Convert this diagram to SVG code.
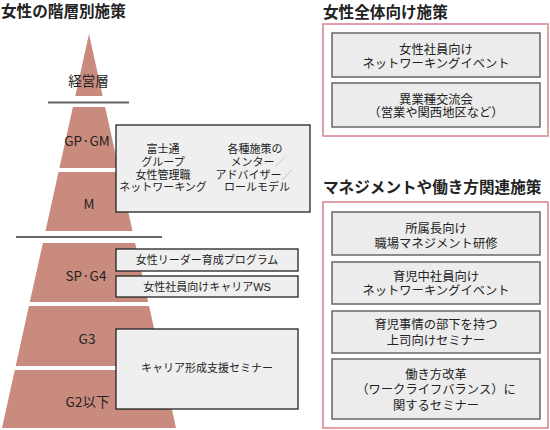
<svg xmlns="http://www.w3.org/2000/svg" width="550" height="430" viewBox="0 0 550 430">
<style>
text{font-family:"Noto Sans CJK JP","Noto Sans CJK SC",sans-serif;fill:#222;text-anchor:middle;dominant-baseline:central}
.title{font-size:15.6px;font-weight:bold;text-anchor:start}
.tier{fill:#c98b7e}
.lvl{font-size:13.5px}
.sep{stroke:#666;stroke-width:2}
.lbox{fill:#efefef;stroke:#222;stroke-width:1.3}
.lt{font-size:11px;font-family:"Liberation Sans","Noto Sans CJK JP",sans-serif}
.frame{fill:#fff;stroke:#d9808a;stroke-width:1.5}
.rbox{fill:#ececec;stroke:#707070;stroke-width:1.6}
.rt{font-size:12.3px;font-family:"Liberation Sans","Noto Sans CJK JP",sans-serif}
.sl{fill:#aaa}
</style>
<rect width="550" height="430" fill="#fff"/>

<text class="title" x="1" y="10">女性の階層別施策</text>
<text class="title" x="323" y="11">女性全体向け施策</text>
<text class="title" x="323" y="186">マネジメントや働き方関連施策</text>

<g id="pyramid">
  <g id="tier-executive"><polygon class="tier" points="89,34 102.7,96 75.3,96"/><text class="lvl" x="88.5" y="80">経営層</text></g>
  <g id="tier-gpgm"><polygon class="tier" points="72.9,107 105.1,107 118.6,168 59.4,168"/><text class="lvl" x="87" y="140">GP·GM</text></g>
  <g id="tier-m"><polygon class="tier" points="58.5,172 119.5,172 132.5,231 45.5,231"/><text class="lvl" x="89" y="203">M</text></g>
  <g id="tier-spg4"><polygon class="tier" points="42.9,243 135.1,243 148.2,302 29.8,302"/><text class="lvl" x="86" y="275">SP·G4</text></g>
  <g id="tier-g3"><polygon class="tier" points="28.9,306 149.1,306 162.3,366 15.7,366"/><text class="lvl" x="87" y="338">G3</text></g>
  <g id="tier-g2"><polygon class="tier" points="14.8,370 163.2,370 176,428 2,428"/><text class="lvl" x="87.5" y="401">G2以下</text></g>
</g>

<g id="connectors">
  <line class="sep" x1="48" y1="102.5" x2="129" y2="102.5"/>
  <line class="sep" x1="16" y1="237" x2="162" y2="237"/>
</g>

<g id="box-network">
  <rect class="lbox" x="116" y="125" width="194" height="87"/>
  <text class="lt" x="163" y="149">富士通</text>
  <text class="lt" x="163" y="162">グループ</text>
  <text class="lt" x="163" y="174.5">女性管理職</text>
  <text class="lt" x="163" y="187">ネットワーキング</text>
  <text class="lt" x="255" y="149">各種施策の</text>
  <text class="lt" x="258" y="162">メンター<tspan class="sl">／</tspan></text>
  <text class="lt" x="254" y="174.5">アドバイザー<tspan class="sl">／</tspan></text>
  <text class="lt" x="257" y="187">ロールモデル</text>
</g>
<g id="box-leader">
  <rect class="lbox" x="116" y="249" width="182" height="22"/>
  <text class="lt" x="207" y="260">女性リーダー育成プログラム</text>
</g>
<g id="box-careerws">
  <rect class="lbox" x="116" y="276" width="182" height="21"/>
  <text class="lt" x="207" y="286.5">女性社員向けキャリアWS</text>
</g>
<g id="box-career-seminar">
  <rect class="lbox" x="116" y="329" width="182" height="80"/>
  <text class="lt" x="207" y="368">キャリア形成支援セミナー</text>
</g>

<g id="frame-women">
  <rect class="frame" x="323" y="24" width="225" height="112"/>
  <g id="box-women-network">
    <rect class="rbox" x="332" y="33" width="208" height="44"/>
    <text class="rt" x="436" y="49.5">女性社員向け</text>
    <text class="rt" x="436" y="64">ネットワーキングイベント</text>
  </g>
  <g id="box-cross-industry">
    <rect class="rbox" x="332" y="83" width="208" height="44"/>
    <text class="rt" x="436" y="99.5">異業種交流会</text>
    <text class="rt" x="436" y="113">（営業や関西地区など）</text>
  </g>
</g>

<g id="frame-management">
  <rect class="frame" x="323" y="202" width="225" height="226"/>
  <g id="box-manager-training">
    <rect class="rbox" x="332" y="212" width="208" height="43"/>
    <text class="rt" x="436" y="229">所属長向け</text>
    <text class="rt" x="436" y="243.5">職場マネジメント研修</text>
  </g>
  <g id="box-childcare-network">
    <rect class="rbox" x="332" y="262" width="208" height="42"/>
    <text class="rt" x="436" y="276.5">育児中社員向け</text>
    <text class="rt" x="436" y="290.5">ネットワーキングイベント</text>
  </g>
  <g id="box-boss-seminar">
    <rect class="rbox" x="332" y="311" width="208" height="42"/>
    <text class="rt" x="436" y="324.5">育児事情の部下を持つ</text>
    <text class="rt" x="436" y="341">上司向けセミナー</text>
  </g>
  <g id="box-worklife">
    <rect class="rbox" x="332" y="359" width="208" height="60"/>
    <text class="rt" x="436" y="374.5">働き方改革</text>
    <text class="rt" x="436" y="390">（ワークライフバランス）に</text>
    <text class="rt" x="436" y="406">関するセミナー</text>
  </g>
</g>
</svg>
